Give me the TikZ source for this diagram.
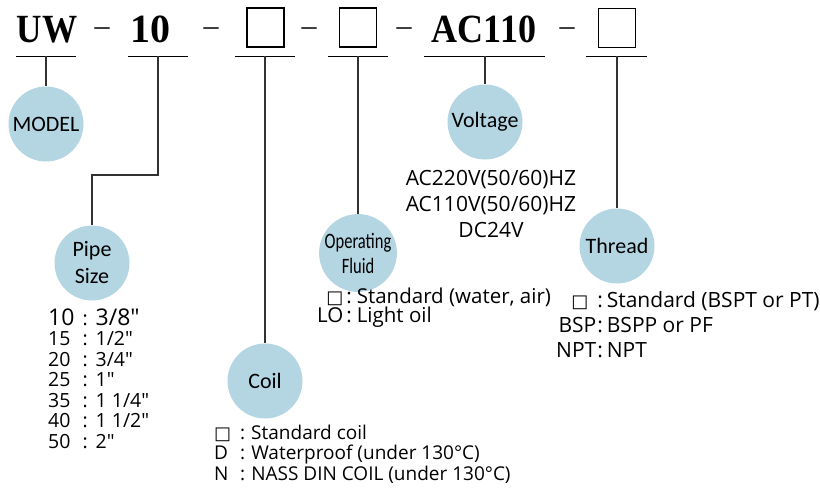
\documentclass[tikz,border=0pt]{standalone}
\usepackage{fontspec}
\usepackage{graphicx}
\setmainfont{Open Sans}[Ligatures=TeXOff]
\newfontfamily\bubblefont{Carlito}
\newfontfamily\headfont{Liberation Serif}
\newfontfamily\symfont{DejaVu Sans}
\usetikzlibrary{positioning}
\definecolor{bubblefill}{RGB}{180,213,226}
\definecolor{stemgray}{RGB}{50,50,50}
\newcommand{\sq}{{\symfont\fontsize{18}{18}\selectfont □}}

\begin{document}
\begin{tikzpicture}[
    x=1pt, y=-1pt,
    head/.style={font=\headfont\bfseries\fontsize{40}{40}\selectfont, inner sep=0, anchor=base},
    sepmark/.style={font=\headfont\fontsize{30}{30}\selectfont, inner sep=0, anchor=base},
    slot/.style={draw, line width=1.8pt, minimum width=37pt, minimum height=39pt, inner sep=0},
    bar/.style={line width=1pt},
    stem/.style={draw=stemgray, line width=1.3pt},
    bubble/.style={circle, fill=bubblefill, minimum size=75pt, inner sep=0, align=center, font=\bubblefont\fontsize{22}{27}\selectfont},
    codes/.style={inner sep=0, anchor=base west}
]
\useasboundingbox (0,0) rectangle (820,491);

% 1. Order code
\node[head] (uw) at (47,42) {\scalebox{0.88}[1]{UW}};
\node[head] (ten) at (150,42) {10};
\node[slot] (coilslot) at (265.5,27.5) {};
\node[slot] (fluidslot) at (358,27.5) {};
\node[head] (ac) at (484,42) {\scalebox{0.9}[1]{AC110}};
\node[slot] (threadslot) at (617,28) {};

\node[sepmark] (s1) at (102,35) {–};
\node[sepmark] (s2) at (211,35) {–};
\node[sepmark] (s3) at (309,35) {–};
\node[sepmark] (s4) at (404,35) {–};
\node[sepmark] (s5) at (567,35) {–};

% 2. Underlines and ticks
\draw[bar] (16,56) -- (76,56);
\draw[bar] (128,56) -- (188,56);
\draw[bar] (235,56) -- (295,56);
\draw[bar] (328,56) -- (388,56);
\draw[bar] (424,56) -- (545,56);
\draw[bar] (586,56) -- (647,56);

\coordinate (uw-tick) at (46,56);
\coordinate (ten-tick) at (158,56);
\coordinate (coil-tick) at (265,56);
\coordinate (fluid-tick) at (358,56);
\coordinate (ac-tick) at (485,56);
\coordinate (thread-tick) at (617,56);

% 3. Bubbles
\node[bubble] (model) at (46,124) {MODEL};
\node[bubble] (pipe) at (92,263) {Pipe\\Size};
\node[bubble] (coil) at (265,381) {Coil};
\node[bubble, font=\bubblefont\fontsize{22}{25}\selectfont] (fluid) at (358,253) {\scalebox{0.75}[1]{Operating}\\\scalebox{0.75}[1]{Fluid}};
\node[bubble] (voltage) at (485,122) {Voltage};
\node[bubble] (thread) at (617,246) {Thread};

\draw[stem] (uw-tick) -- (model.north);
\draw[stem] (ten-tick) -- ++(0,119) -| (pipe.north);
\draw[stem] (coil-tick) -- (coil.north);
\draw[stem] (fluid-tick) -- (fluid.north);
\draw[stem] (ac-tick) -- (voltage.north);
\draw[stem] (thread-tick) -- (thread.north);

% 4. Code lists
\node[codes, font=\fontsize{19.5}{20.5}\selectfont] (sizes) at (48,325) {%
  \begin{tabular}[t]{@{}l@{\hspace{8pt}:\hspace{8pt}}l@{}}
  {\fontsize{23}{20.5}\selectfont 10} & {\fontsize{23}{20.5}\selectfont 3/8"}\\
  15 & 1/2"\\
  20 & 3/4"\\
  25 & 1"\\
  35 & 1 1/4"\\
  40 & 1 1/2"\\
  50 & 2"
  \end{tabular}};

\node[codes, font=\fontsize{19}{20.5}\selectfont] (coilcodes) at (214,439) {%
  \begin{tabular}[t]{@{}l@{\hspace{9pt}:\hspace{6pt}}l@{}}
  \sq & Standard coil\\
  D & Waterproof (under 130°C)\\
  N & NASS DIN COIL (under 130°C)
  \end{tabular}};

\node[codes, font=\fontsize{20.5}{18}\selectfont] (fluidcodes) at (317,303) {%
  \begin{tabular}[t]{@{}r@{\hspace{3pt}:\hspace{5pt}}l@{}}
  \sq & Standard (water, air)\\[-1pt]
  LO & Light oil
  \end{tabular}};

\node[inner sep=0, anchor=base, font=\fontsize{21}{26}\selectfont] (voltcodes) at (491,185) {%
  \begin{tabular}[t]{@{}c@{}}
  AC220V(50/60)HZ\\
  AC110V(50/60)HZ\\
  DC24V
  \end{tabular}};

\node[codes, font=\fontsize{21}{25}\selectfont] (threadcodes) at (556,307) {%
  \begin{tabular}[t]{@{}r@{\hspace{1pt}:\hspace{4pt}}l@{}}
  \sq\hspace{8pt} & Standard (BSPT or PT)\\
  BSP & BSPP or PF\\
  NPT & NPT
  \end{tabular}};

\end{tikzpicture}
\end{document}
